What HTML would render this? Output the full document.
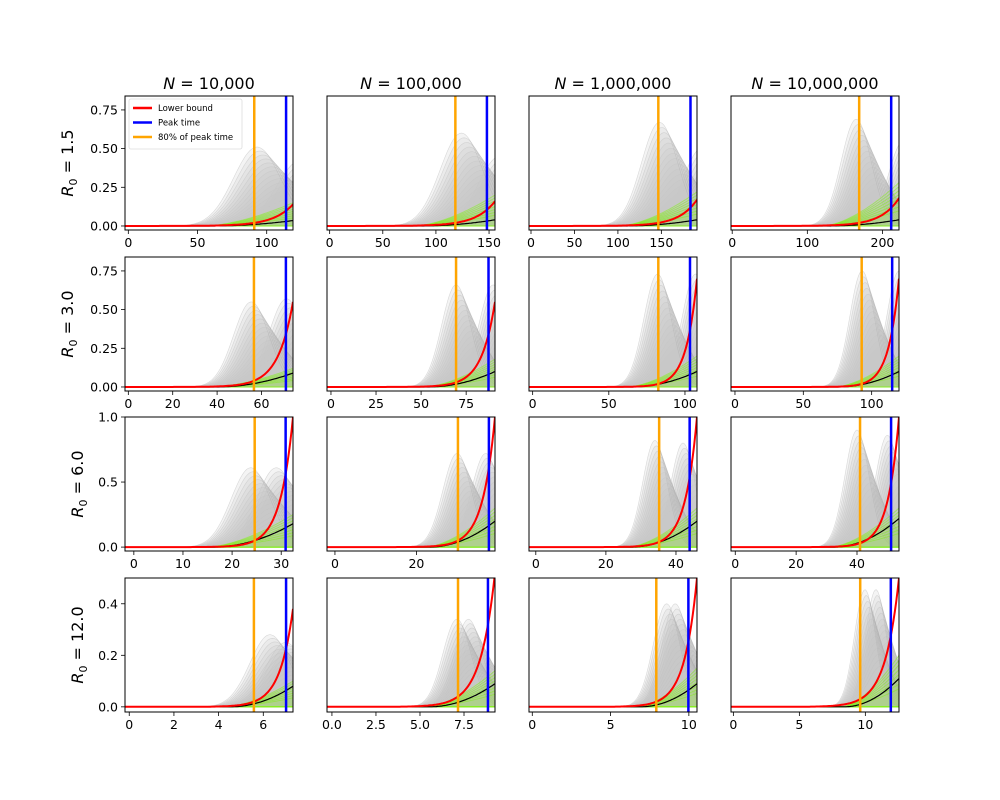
<!DOCTYPE html>
<html><head><meta charset="utf-8"><style>
html,body{margin:0;padding:0;background:#fff;width:1000px;height:800px;overflow:hidden}
svg text{font-family:"DejaVu Sans","Liberation Sans",sans-serif;fill:#000}
</style></head><body>
<svg id="fig" width="1000" height="800" xmlns="http://www.w3.org/2000/svg"></svg>
<script>
const colTitles = ["10,000","100,000","1,000,000","10,000,000"];
const rowLabels = ["1.5","3.0","6.0","12.0"];
const colLeft = [125,327,529,731];
const rowTop = [96,257,417,578];
const PW = 168, PH = 134;
// per-panel data, row-major
const xMin = [-2.4,-2.5,-2.3,-1.6,  -1.5,-2.2,-2.4,-2.9,  -1.8,-1.95,-1.94,-1.4,  -0.19,-0.28,-0.21,-0.18];
const xMax = [119,155.6,191,222,  74.2,91,107.9,120,  32.4,39.3,46,53.8,  7.33,9.26,10.52,12.55];
const yMin = [-0.026,-0.026,-0.026,-0.026, -0.026,-0.026,-0.026,-0.026, -0.03,-0.03,-0.03,-0.03, -0.02,-0.02,-0.02,-0.02];
const yMax = [0.84,0.84,0.84,0.84, 0.84,0.84,0.84,0.84, 1.0,1.0,1.0,1.0, 0.5,0.5,0.5,0.5];
const xTicks = [[0,50,100],[0,50,100,150],[0,50,100,150],[0,100,200],
  [0,20,40,60],[0,25,50,75],[0,50,100],[0,50,100],
  [0,10,20,30],[0,20],[0,20,40],[0,20,40],
  [0,2,4,6],[0,2.5,5,7.5],[0,5,10],[0,5,10]];
const xTickLabels = [["0","50","100"],["0","50","100","150"],["0","50","100","150"],["0","100","200"],
  ["0","20","40","60"],["0","25","50","75"],["0","50","100"],["0","50","100"],
  ["0","10","20","30"],["0","20"],["0","20","40"],["0","20","40"],
  ["0","2","4","6"],["0.0","2.5","5.0","7.5"],["0","5","10"],["0","5","10"]];
const yTicksRow = [[0,0.25,0.5,0.75],[0,0.25,0.5,0.75],[0,0.5,1.0],[0,0.2,0.4]];
const yTickLabelsRow = [["0.00","0.25","0.50","0.75"],["0.00","0.25","0.50","0.75"],["0.0","0.5","1.0"],["0.0","0.2","0.4"]];
const orangeT = [91,118.3,146.5,169, 56.6,69.4,82.5,92.7, 24.6,30.2,35.2,41, 5.58,7.16,7.92,9.61];
const blueT = [114,148,183.5,211.6, 71,87.4,103.3,115, 30.9,37.8,43.9,51.2, 7.02,8.86,9.97,11.93];
const hump1C = [93,124,148,165, 55.4,69.4,82,93, 23.8,30,34,40, 6.3,7.1,8.58,9.97];
const hump1H = [0.51,0.6,0.67,0.69, 0.55,0.66,0.73,0.75, 0.61,0.72,0.82,0.9, 0.28,0.34,0.40,0.455];
const hump2C = [124,160,196,228, 71.3,90,107,120, 29,37,42,50, 7.0,7.75,9.13,10.8];
const hump2H = [0.42,0.45,0.5,0.55, 0.57,0.66,0.73,0.75, 0.61,0.72,0.8,0.86, 0.25,0.34,0.40,0.455];
const humpSigma = [17,20,21,20, 8,8,9,9, 4,3.5,3.5,4, 0.9,0.8,0.85,0.8];
const redEnd = [0.14,0.16,0.17,0.18, 0.55,0.55,0.7,0.7, 1.0,1.0,1.0,1.0, 0.38,0.52,0.5,0.5];
const redAtOrange = [0.02,0.02,0.02,0.02, 0.04,0.03,0.02,0.02, 0.05,0.05,0.04,0.03, 0.02,0.04,0.02,0.03];
const greenEnd = [0.15,0.2,0.22,0.28, 0.12,0.18,0.2,0.2, 0.25,0.3,0.3,0.3, 0.1,0.14,0.15,0.2];
const blackEnd = [0.035,0.04,0.04,0.04, 0.09,0.1,0.1,0.1, 0.18,0.2,0.2,0.22, 0.08,0.09,0.09,0.11];

const NS="http://www.w3.org/2000/svg";
const fig=document.getElementById('fig');
function mk(tag,attrs,parent){const e=document.createElementNS(NS,tag);for(const k in attrs)e.setAttribute(k,attrs[k]);(parent||fig).appendChild(e);return e;}

for(let r=0;r<4;r++){for(let c=0;c<4;c++){
  const i=r*4+c, L=colLeft[c], T=rowTop[r];
  const g=mk('g',{});
  
  
  const cid='clip'+i;
  const cp=mk('clipPath',{id:cid},g); mk('rect',{x:L,y:T,width:PW,height:PH},cp);
  const sx=v=>L+(v-xMin[i])/(xMax[i]-xMin[i])*PW;
  const sy=v=>T+PH-(v-yMin[i])/(yMax[i]-yMin[i])*PH;
  const pg=mk('g',{'clip-path':'url(#'+cid+')'},g);
  const N=120;
  const xs=[];for(let k=0;k<=N;k++)xs.push(xMin[i]+(xMax[i]-xMin[i])*k/N);
  const sig=humpSigma[i];
  [[hump2C[i],hump2H[i]],[hump1C[i],hump1H[i]]].forEach(h=>{
    for(let s=0;s<14;s++){
      const f=s/13, sc=0.35+0.65*f, sh=(1-f)*1.6*sig;
      let d='';
      xs.forEach((x,k)=>{const y=h[1]*sc*Math.exp(-Math.pow((x-h[0]-sh)/(sig*(1+0.3*(1-f))),2)/2);d+=(k?'L':'M')+sx(x).toFixed(1)+','+sy(y).toFixed(1);});
      const p=mk('path',{d:d+'L'+sx(xMax[i]).toFixed(1)+','+sy(0).toFixed(1)+'L'+sx(xMin[i]).toFixed(1)+','+sy(0).toFixed(1)+'Z',fill:'rgba(200,200,200,0.2)',stroke:'#a8a8a8','stroke-width':0.6,'stroke-opacity':0.4},pg);
      
      
    }
  });
  for(let s=0;s<8;s++){
    const ge=greenEnd[i]*(0.35+0.65*s/7), x0=hump1C[i]-2.2*sig;
    let d='';
    xs.forEach((x,k)=>{const t=Math.max(0,(x-x0)/(xMax[i]-x0));const y=ge*Math.pow(t,1.6);d+=(k?'L':'M')+sx(x).toFixed(1)+','+sy(y).toFixed(1);});
    const p=mk('path',{d:d+'L'+sx(xMax[i]).toFixed(1)+','+sy(0).toFixed(1)+'Z',fill:'rgba(140,240,40,0.05)',stroke:'#86ee22','stroke-width':1,'stroke-opacity':0.55},pg);
    
    
  }
  {let d='';const x0=hump1C[i]-2*sig;
   xs.forEach((x,k)=>{const t=Math.max(0,(x-x0)/(xMax[i]-x0));d+=(k?'L':'M')+sx(x).toFixed(1)+','+sy(blackEnd[i]*t*t).toFixed(1);});
   const p=mk('path',{d:d,fill:'none',stroke:'#000','stroke-width':1.2},pg);
   
   }
  {const k=Math.log(redEnd[i]/redAtOrange[i])/(xMax[i]-orangeT[i]);let d='';
   xs.forEach((x,q)=>{const y=redEnd[i]*Math.exp(k*(x-xMax[i]));d+=(q?'L':'M')+sx(x).toFixed(1)+','+sy(y).toFixed(1);});
   const p=mk('path',{d:d,fill:'none',stroke:'#ff0000','stroke-width':2},pg);
   
   }
  const o=mk('line',{x1:sx(orangeT[i]),x2:sx(orangeT[i]),y1:T,y2:T+PH,stroke:'#ffa500','stroke-width':2.5},pg);
  
  
  const b=mk('line',{x1:sx(blueT[i]),x2:sx(blueT[i]),y1:T,y2:T+PH,stroke:'#0000ff','stroke-width':2.5},pg);
  
  
  const fr=mk('rect',{x:L,y:T,width:PW,height:PH,fill:'none',stroke:'#000','stroke-width':1},g);
  
  
  xTicks[i].forEach((v,k)=>{
    const x=sx(v);
    mk('line',{x1:x,x2:x,y1:T+PH,y2:T+PH+4,stroke:'#000','stroke-width':0.8},g);
    const t=mk('text',{x:x,y:T+PH+17,'text-anchor':'middle','font-size':12.5},g);
    t.textContent=xTickLabels[i][k];
    
    
  });
  if(c==0){
    yTicksRow[r].forEach((v,k)=>{
      const y=sy(v);
      mk('line',{x1:L-4,x2:L,y1:y,y2:y,stroke:'#000','stroke-width':0.8},g);
      const t=mk('text',{x:L-7,y:y+4.5,'text-anchor':'end','font-size':12.5},g);
      t.textContent=yTickLabelsRow[r][k];
      
      
    });
  }
}}
colTitles.forEach((s,c)=>{
  const t=mk('text',{x:colLeft[c]+PW/2,y:89,'text-anchor':'middle','font-size':16});
  t.innerHTML='<tspan font-style="italic">N</tspan> = '+s;
  
  
});
rowLabels.forEach((s,r)=>{
  const cy=rowTop[r]+PH/2, xx=r<2?73:83;
  const t=mk('text',{x:0,y:0,'text-anchor':'middle','font-size':16,transform:'translate('+xx+','+cy+') rotate(-90)'});
  t.innerHTML='<tspan font-style="italic">R</tspan><tspan font-size="11" dy="4">0</tspan><tspan dy="-4"> = '+s+'</tspan>';
  
  
});
const lg=mk('g',{});


mk('rect',{x:129,y:99,width:113,height:50,rx:2,fill:'rgba(255,255,255,0.85)',stroke:'#ddd','stroke-width':0.8},lg);
[['Lower bound','#ff0000'],['Peak time','#0000ff'],['80% of peak time','#ffa500']].forEach((e,k)=>{
  const y=108+k*14.5;
  const l=mk('line',{x1:133,x2:152,y1:y,y2:y,stroke:e[1],'stroke-width':2.5},lg);
  
  
  const t=mk('text',{x:158,y:y+3,'font-size':8.5},lg);
  t.textContent=e[0];
  
  
});
</script>
</body></html>
